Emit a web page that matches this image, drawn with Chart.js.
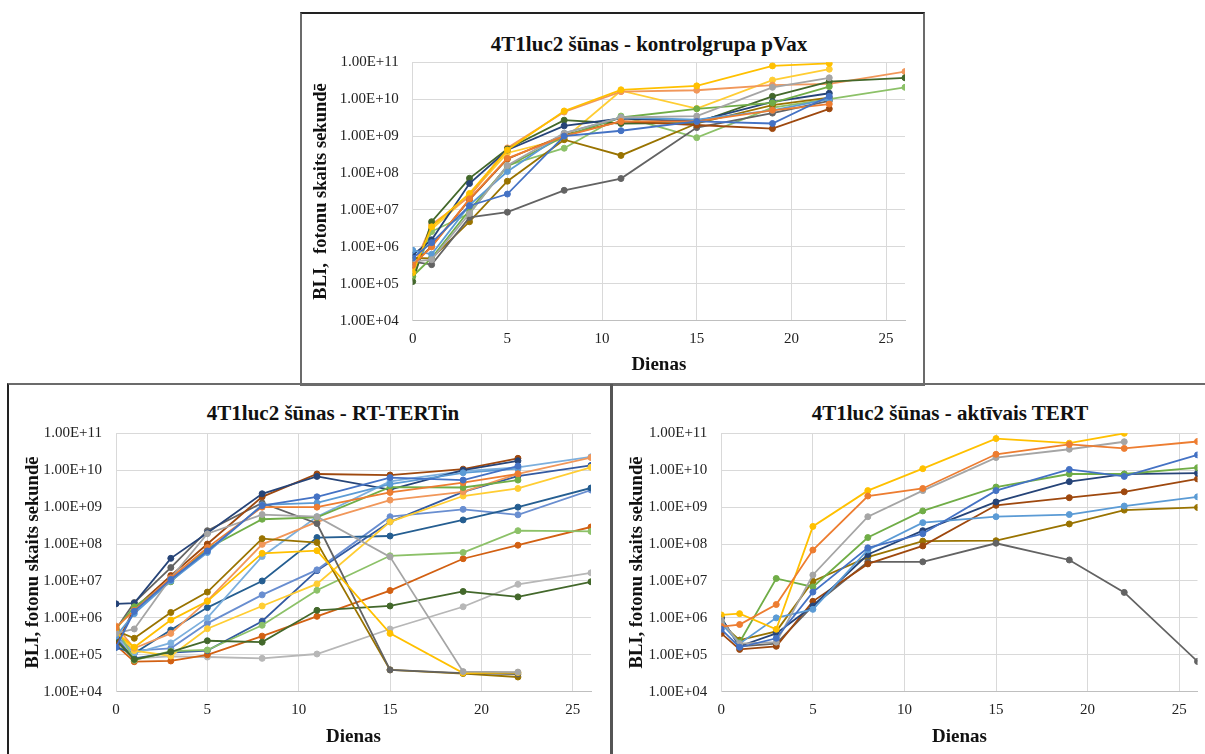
<!DOCTYPE html>
<html>
<head>
<meta charset="utf-8">
<script src="https://cdn.jsdelivr.net/npm/chart.js@4.4.1/dist/chart.umd.min.js"></script>
<style>
  body { margin: 0; background: #fff; width: 1205px; height: 754px; overflow: hidden; position: relative; }
  .box { position: absolute; box-sizing: border-box; border: 2px solid #6b6b6b; }
  .title { position: absolute; transform: translate(-50%, -50%); white-space: nowrap;
           font: bold 21px "Liberation Serif", serif; color: #111; }
  canvas { position: absolute; }
</style>
</head>
<body>
<div class="box" style="left:300px; top:12px; width:625px; height:374px; border-top-color:#222;"></div>
<div class="box" style="left:7px; top:383px; width:1210px; height:380px; border-left-color:#222;"></div>
<div style="position:absolute; left:610px; top:384px; width:3px; height:380px; background:#555;"></div>

<div class="title" style="left:649px; top:44px;">4T1luc2 šūnas - kontrolgrupa pVax</div>
<div class="title" style="left:333px; top:413px;">4T1luc2 šūnas - RT-TERTin</div>
<div class="title" style="left:950px; top:413px;">4T1luc2 šūnas - aktīvais TERT</div>

<canvas id="pvaxChart" width="620" height="368" style="left:302px; top:15px;"></canvas>
<canvas id="rtChart" width="600" height="368" style="left:10px; top:386px;"></canvas>
<canvas id="tertChart" width="591" height="368" style="left:614px; top:386px;"></canvas>

<script>
// measurement days (x axis)
const days = [0, 1, 3, 5, 8, 11, 15, 19, 22, 26];
const xTicks = [0, 5, 10, 15, 20, 25];
const yTicks = [1e4, 1e5, 1e6, 1e7, 1e8, 1e9, 1e10, 1e11];

// Excel-like palette
const colors = ['#4472C4', '#ED7D31', '#A5A5A5', '#FFC000', '#5B9BD5', '#70AD47', '#264478', '#9E480E',
                '#636363', '#997300', '#43682B', '#8CC168', '#F1975A', '#FFCD33', '#7CAFDD', '#255E91',
                '#698ED0', '#335AA1', '#D26012', '#B7B7B7'];

// --- kontrolgrupa pVax ---
const pvaxBlue      = [5.0e5, 1.3e6, 1.3e7, 2.7e7, 1.0e9, 1.4e9, 2.5e9, 2.2e9, 1.2e10];
const pvaxOrange    = [3.2e5, 1.0e6, 2.0e7, 2.5e8, 1.0e9, 2.5e9, 2.5e9, 5.0e9, 7.4e9];
const pvaxGray      = [4.0e5, 4.5e5, 8.0e6, 1.6e8, 1.2e9, 3.2e9, 3.5e9, 2.1e10, 3.8e10];
const pvaxYellow    = [2.0e5, 3.5e6, 2.8e7, 4.2e8, 4.8e9, 1.8e10, 2.3e10, 8.0e10, 9.3e10];
const pvaxLightBlue = [8.1e5, 6.3e5, 1.35e7, 1.1e8, 1.2e9, 3.2e9, 2.8e9, 5.0e9, 1.0e10];
const pvaxGreen     = [1.6e5, 5.0e5, 1.0e7, 1.5e8, 1.0e9, 3.2e9, 5.5e9, 8.0e9, 2.2e10];
const pvaxDarkBlue  = [6.0e5, 1.55e6, 5.2e7, 4.2e8, 1.9e9, 3.0e9, 2.5e9, 8.5e9, 1.45e10];
const pvaxBrown     = [3.2e5, 1.05e6, 1.9e7, 2.4e8, 1.07e9, 2.5e9, 2.0e9, 1.6e9, 5.5e9];
const pvaxDarkGray  = [4.0e5, 3.3e5, 6.3e6, 8.7e6, 3.4e7, 7.1e7, 1.7e9, 4.2e9, 9.0e9];
const pvaxOlive     = [5.0e5, 4.9e5, 4.8e6, 6.0e7, 8.0e8, 3.0e8, 2.2e9, 6.9e9, 1.1e10];
const pvaxDarkGreen = [1.15e5, 4.8e6, 7.2e7, 4.5e8, 2.7e9, 2.2e9, 2.3e9, 1.2e10, 3.0e10, 3.8e10];
const pvaxLightGreen = [1.55e5, 2.6e6, 8.0e6, 1.6e8, 4.7e8, 3.5e9, 9.1e8, 5.9e9, 1.0e10, 2.1e10];
const pvaxLightOrange = [2.6e5, 4.0e6, 2.3e7, 4.8e8, 4.5e9, 1.6e10, 1.75e10, 2.4e10, 2.6e10, 5.6e10];
const pvaxLightYellow = [2.2e5, 3.0e6, 2.5e7, 3.5e8, 8.5e8, 1.7e10, 5.6e9, 3.3e10, 6.5e10];

// --- RT-TERTin ---
const rtBlue       = [1.6e5, 1.5e6, 1.1e7, 6.5e7, 1.1e9, 1.9e9, 6.3e9, 5.4e9, 1.3e10];
const rtOrange     = [5.5e5, 1.6e6, 1.2e7, 8.0e7, 1.0e9, 1.0e9, 2.5e9, 4.6e9, 8.0e9];
const rtGray       = [3.8e5, 5.0e5, 1.2e7, 1.9e8, 6.3e8, 5.5e8, 4.5e7, 3.5e4, 3.4e4];
const rtYellow     = [4.0e5, 1.6e5, 8.7e5, 2.8e6, 5.6e7, 6.6e7, 3.8e5, 3.2e4, 3.3e4];
const rtLightBlue  = [3.2e5, 1.3e6, 1.0e7, 5.9e7, 1.15e9, 1.3e9, 4.2e9, 8.5e9, 1.1e10];
const rtGreen      = [5.0e5, 2.0e6, 9.5e6, 7.6e7, 4.7e8, 5.3e8, 3.5e9, 3.4e9, 5.4e9];
const rtDarkBlue   = [2.4e6, 2.5e6, 4.1e7, 2.0e8, 2.3e9, 6.8e9, 3.0e9, 1.0e10, 1.8e10];
const rtBrown      = [1.8e5, 1.8e6, 1.4e7, 1.0e8, 1.9e9, 7.9e9, 7.4e9, 1.07e10, 2.1e10];
const rtDarkGray   = [5.0e5, 2.6e6, 2.3e7, 2.3e8, 1.3e9, 3.6e8, 3.9e4, 3.2e4, 3.0e4];
const rtOlive      = [4.5e5, 2.8e5, 1.4e6, 5.0e6, 1.4e8, 1.1e8, 3.9e4, 3.1e4, 2.5e4];
const rtDarkGreen  = [2.5e5, 7.5e4, 1.2e5, 2.4e5, 2.2e5, 1.6e6, 2.1e6, 5.2e6, 3.7e6, 9.5e6];
const rtLightGreen = [5.5e5, 7.1e4, 1.25e5, 1.35e5, 6.3e5, 5.6e6, 4.8e7, 5.9e7, 2.3e8, 2.2e8];
const rtLightOrange = [6.0e5, 1.5e5, 3.8e5, 2.9e6, 9.8e7, 4.0e8, 1.55e9, 2.6e9, 7.9e9, 2.2e10];
const rtLightYellow = [4.0e5, 1.3e5, 9.3e4, 5.1e5, 2.1e6, 8.3e6, 4.0e8, 2.0e9, 3.2e9, 1.2e10];
const rtSkyBlue    = [3.0e5, 1.1e5, 2.1e5, 1.0e6, 4.6e7, 5.5e8, 5.0e9, 9.5e9, 1.2e10, 2.3e10];
const rtSteelBlue  = [1.6e5, 1.1e5, 4.7e5, 1.9e6, 1.0e7, 1.5e8, 1.65e8, 4.5e8, 1.0e9, 3.3e9];
const rtPaleBlue   = [3.2e5, 1.3e5, 1.5e5, 7.1e5, 4.2e6, 2.0e7, 5.5e8, 8.7e8, 6.2e8, 2.9e9];
const rtNavy       = [2.8e5, 8.0e4, 1.15e5, 1.3e5, 8.1e5, 1.9e7, 4.0e8, 2.6e9, 6.9e9, 1.35e10];
const rtRust       = [1.8e5, 6.5e4, 6.8e4, 1.0e5, 3.2e5, 1.1e6, 5.5e6, 4.0e7, 9.3e7, 2.9e8];
const rtLightGray  = [2.0e5, 8.0e4, 9.0e4, 8.7e4, 8.0e4, 1.05e5, 5.0e5, 2.0e6, 8.1e6, 1.66e7];

// --- aktīvais TERT ---
const tertBlue      = [4.9e5, 1.6e5, 2.8e5, 5.0e6, 7.9e7, 1.9e8, 2.8e9, 1.05e10, 6.8e9, 2.6e10];
const tertOrange    = [5.8e5, 6.6e5, 2.3e6, 6.9e7, 2.0e9, 3.2e9, 2.7e10, 5.0e10, 3.9e10, 6.0e10];
const tertGray      = [8.5e5, 2.0e5, 2.2e5, 1.45e7, 5.5e8, 2.8e9, 2.2e10, 3.7e10, 5.9e10];
const tertYellow    = [1.2e6, 1.3e6, 4.9e5, 3.0e8, 2.8e9, 1.1e10, 7.2e10, 5.4e10, 1.0e11];
const tertLightBlue = [7.0e5, 2.0e5, 1.0e6, 1.7e6, 6.9e7, 3.8e8, 5.5e8, 6.3e8, 1.07e9, 1.9e9];
const tertGreen     = [7.5e5, 2.2e5, 1.17e7, 6.9e6, 1.5e8, 7.9e8, 3.5e9, 7.9e9, 7.9e9, 1.17e10];
const tertDarkBlue  = [1.0e6, 1.7e5, 3.8e5, 2.1e6, 5.2e7, 2.3e8, 1.38e9, 4.9e9, 7.8e9, 8.3e9];
const tertBrown     = [3.8e5, 1.4e5, 1.7e5, 2.8e6, 2.9e7, 8.9e7, 1.12e9, 1.8e9, 2.6e9, 5.8e9];
const tertDarkGray  = [9.8e5, 1.7e5, 2.0e5, 2.1e6, 3.3e7, 3.3e7, 1.05e8, 3.7e7, 4.9e6, 6.6e4];
const tertOlive     = [7.0e5, 2.5e5, 4.3e5, 9.8e6, 4.4e7, 1.2e8, 1.23e8, 3.5e8, 8.3e8, 9.8e8];

const pvaxSeries = [pvaxBlue, pvaxOrange, pvaxGray, pvaxYellow, pvaxLightBlue, pvaxGreen, pvaxDarkBlue,
                    pvaxBrown, pvaxDarkGray, pvaxOlive, pvaxDarkGreen, pvaxLightGreen, pvaxLightOrange, pvaxLightYellow];
const rtSeries = [rtBlue, rtOrange, rtGray, rtYellow, rtLightBlue, rtGreen, rtDarkBlue, rtBrown, rtDarkGray,
                  rtOlive, rtDarkGreen, rtLightGreen, rtLightOrange, rtLightYellow, rtSkyBlue, rtSteelBlue,
                  rtPaleBlue, rtNavy, rtRust, rtLightGray];
const tertSeries = [tertBlue, tertOrange, tertGray, tertYellow, tertLightBlue, tertGreen, tertDarkBlue,
                    tertBrown, tertDarkGray, tertOlive];

const serif = '"Liberation Serif", "Times New Roman", serif';

function sciLabel(v) {
    const [m, e] = v.toExponential(2).split('e');
    const exp = parseInt(e, 10);
    return m + 'E' + (exp < 0 ? '-' : '+') + String(Math.abs(exp)).padStart(2, '0');
}

// Builds one log-scale line chart; geometry = plot area inside the canvas
function createBliChart(id, series, geo) {
    const ctx = document.getElementById(id).getContext('2d');
    return new Chart(ctx, {
        type: 'line',
        data: {
            datasets: series.map((vals, i) => ({
                data: vals.map((v, j) => ({ x: days[j], y: v })),
                borderColor: colors[i],
                backgroundColor: colors[i],
                borderWidth: 1.8,
                pointRadius: 3,
                pointBorderWidth: 1,
                tension: 0
            }))
        },
        options: {
            responsive: false,
            animation: false,
            devicePixelRatio: 1,
            layout: { padding: { top: geo.top, right: geo.right, left: 0, bottom: 0 } },
            plugins: { legend: { display: false }, tooltip: { enabled: false } },
            scales: {
                x: {
                    type: 'linear',
                    min: 0,
                    max: 26,
                    afterBuildTicks: s => { s.ticks = xTicks.map(v => ({ value: v })); },
                    afterFit: s => { s.height = geo.bottom; },
                    grid: { color: '#D9D9D9', drawTicks: false },
                    border: { color: '#BFBFBF' },
                    ticks: { padding: 9, color: '#222', font: { family: serif, size: 15 } },
                    title: {
                        display: true, text: 'Dienas', color: '#111',
                        font: { family: serif, size: 19, weight: 'bold' },
                        padding: { top: 0, bottom: geo.xTitlePad }
                    }
                },
                y: {
                    type: 'logarithmic',
                    min: 1e4,
                    max: 1e11,
                    afterBuildTicks: s => { s.ticks = yTicks.map(v => ({ value: v })); },
                    afterFit: s => { s.width = geo.left; },
                    grid: { color: '#D9D9D9', drawTicks: false },
                    border: { color: '#D9D9D9' },
                    ticks: {
                        padding: 14, color: '#222', autoSkip: false,
                        font: { family: serif, size: 15 },
                        callback: v => sciLabel(v)
                    },
                    title: {
                        display: true, text: geo.yTitle, color: '#111',
                        font: { family: serif, size: 18.5, weight: 'bold' },
                        padding: { top: geo.yTitlePad, bottom: 0 }
                    }
                }
            }
        }
    });
}

createBliChart('pvaxChart', pvaxSeries,
    { left: 110.7, top: 47.3, right: 17, bottom: 62.3, xTitlePad: 6.6, yTitlePad: 8, yTitle: 'BLI,  fotonu skaits sekundē' });
createBliChart('rtChart', rtSeries,
    { left: 106, top: 47.3, right: 19, bottom: 62.3, xTitlePad: 5.6, yTitlePad: 12, yTitle: 'BLI, fotonu skaits sekundē' });
createBliChart('tertChart', tertSeries,
    { left: 107.3, top: 47.3, right: 7.5, bottom: 62.3, xTitlePad: 5.6, yTitlePad: 12, yTitle: 'BLI, fotonu skaits sekundē' });
</script>
</body>
</html>
